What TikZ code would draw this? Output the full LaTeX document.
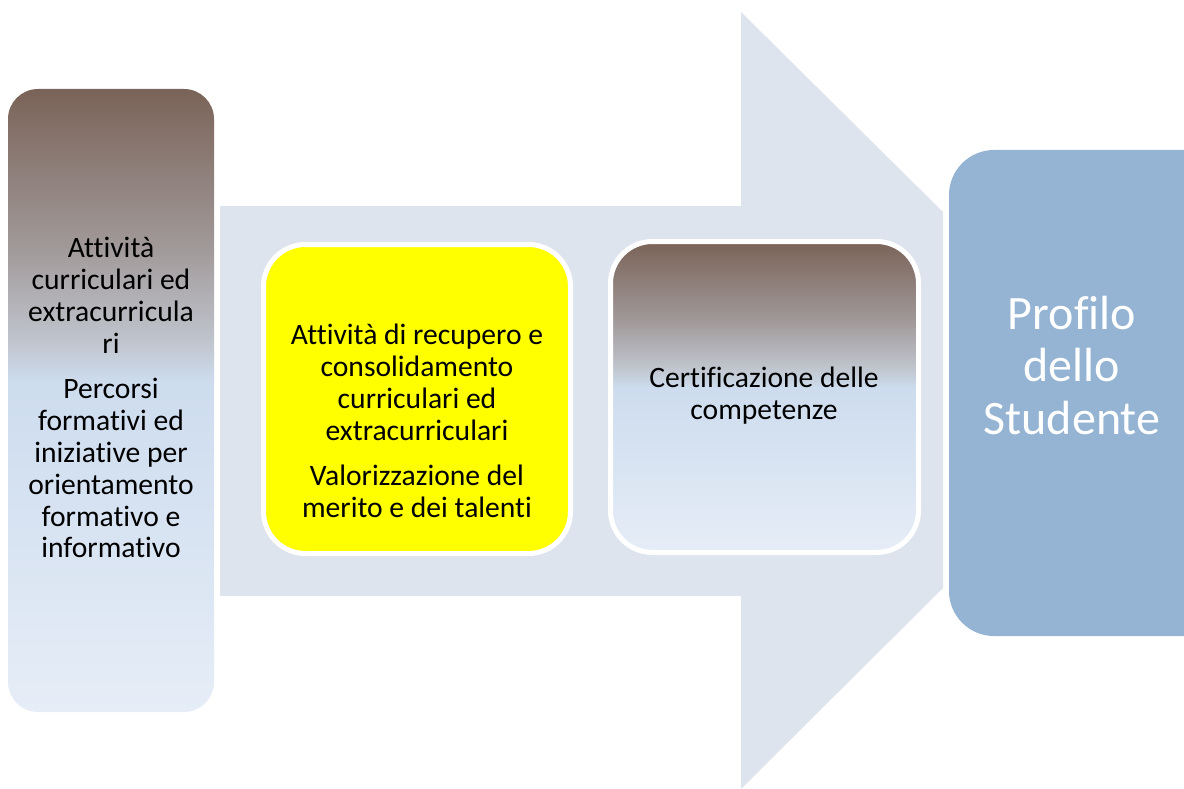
\documentclass[tikz,border=0pt]{standalone}
\usepackage{fontspec}
\setmainfont{Carlito}[Ligatures=NoCommon]
\definecolor{arrowfill}{HTML}{DDE4EE}
\definecolor{profilofill}{HTML}{95B3D3}
\definecolor{yellowfill}{HTML}{FFFF00}
\definecolor{gA}{HTML}{E6EDF7}
\definecolor{gB}{HTML}{CDDCEE}
\definecolor{gC}{HTML}{BFC3CB}
\definecolor{gD}{HTML}{A09898}
\definecolor{gE}{HTML}{7A6358}
\pgfdeclareverticalshading{brownblue}{100bp}{color(0bp)=(gA); color(25bp)=(gA); color(51.5bp)=(gB); color(55bp)=(gC); color(62.5bp)=(gD); color(75bp)=(gE); color(100bp)=(gE)}
\begin{document}
\begin{tikzpicture}[x=1pt,y=-1pt,
  gradbox/.style={shade, shading=brownblue, rectangle, inner sep=0pt},
  framedbox/.style={draw=white, line width=5pt, rounded corners=42pt},
  txt/.style={align=center, inner sep=0pt, text=black, font=\fontsize{29.6}{31.9}\selectfont},
  bigtxt/.style={align=center, inner sep=0pt, text=white, font=\fontsize{48}{52.4}\selectfont}
]
\useasboundingbox (0,0) rectangle (1184,789);
\begin{scope}
\clip (0,0) rectangle (1184,789);
% big background arrow
\fill[arrowfill] (220,206) -- (741,206) -- (741,12) -- (943,212) -- (943,588)
  -- (741,789) -- (741,596) -- (220,596) -- cycle;
% left box
\node[gradbox, rounded corners=30pt, minimum width=206pt, minimum height=623pt] (leftbox) at (111,400.5) {};
\node[txt] (lefttext) at (111,401.5) {\strut Attività\\\strut curriculari ed\\\strut extracurricula\\\strut ri\\[13pt]\strut Percorsi\\\strut formativi ed\\\strut iniziative per\\\strut orientamento\\\strut formativo e\\\strut informativo};
% yellow box
\node[framedbox, fill=yellowfill, minimum width=307pt, minimum height=309pt] (yellowbox) at (417,399) {};
\node[txt] (yellowtext) at (417,424.5) {\strut Attività di recupero e\\\strut consolidamento\\\strut curriculari ed\\\strut extracurriculari\\[13pt]\strut Valorizzazione del\\\strut merito e dei talenti};
% certification box
\node[gradbox, framedbox, minimum width=308pt, minimum height=311pt] (certbox) at (764.5,397) {};
\node[txt] (certtext) at (764,396.8) {\strut Certificazione delle\\\strut competenze};
% profilo box
\node[fill=profilofill, rounded corners=45pt, inner sep=0pt, minimum width=290pt, minimum height=486pt] (profbox) at (1094,393) {};
\node[bigtxt] (proftext) at (1072,371.5) {\strut Profilo\\\strut dello\\\strut Studente};
\end{scope}
\end{tikzpicture}
\end{document}
